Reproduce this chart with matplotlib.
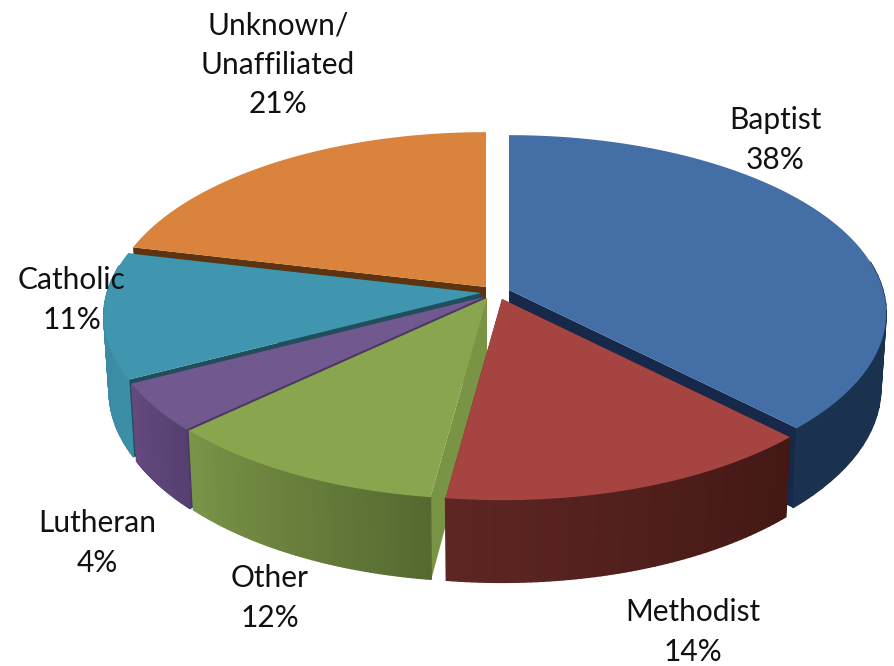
# 3D pie chart, drawn by hand because matplotlib has no 3D pie
import numpy as np
import matplotlib
matplotlib.use('Agg')
import matplotlib.pyplot as plt
from matplotlib.colors import to_rgb

plt.rcParams['font.family'] = ['Lato', 'DejaVu Sans']

# data: printed percentages and the slice sizes as measured on the drawing
names = ['Baptist', 'Methodist', 'Other', 'Lutheran', 'Catholic', 'Unknown/\nUnaffiliated']
values = [38, 14, 12, 4, 11, 21]
shares = [37.7, 14.4, 10.8, 4.4, 11.45, 21.25]

# colours: top, cut wall, outer wall at slice start, outer wall at slice end
tops = ['#446FA6', '#A64442', '#89A54E', '#71588F', '#3F96AE', '#DA833C']
cuts = ['#16294A', '#5A2321', '#7A9446', '#4A3763', '#1F4E5C', '#5E3310']
wall_a = ['#1B3150', '#431815', '#566A30', '#554070', '#3C8EA6', '#5E3310']
wall_b = ['#1B3150', '#5E2623', '#7A9448', '#64497F', '#3A8AA0', '#5E3310']

# where each slice's tip sits in the picture (pixels)
tips = [(509, 290), (502, 299), (487, 298), (484, 297), (481, 293), (486, 287)]
label_xy = [(775, 140), (693, 632), (270, 598), (97, 543), (72, 300), (278, 65)]

# projection settings
R_X, R_Y, K, DEPTH, SHRINK = 374, 175, 0.13, 74, 0.014


def project(tip, theta, r=1.0, low=False):
    x = r * np.sin(theta)
    y = r * np.cos(theta)
    f = 1 / (1 + K * y)
    s = 1 - SHRINK if low else 1
    px = tip[0] + R_X * x * f * s
    py = tip[1] - R_Y * y * f * s
    if low:
        py = py + DEPTH * f
    return px, py


def mix(c1, c2, t):
    a, b = np.array(to_rgb(c1)), np.array(to_rgb(c2))
    return tuple(a + (b - a) * t)


fig = plt.figure(figsize=(8.95, 6.66), dpi=100)
ax = fig.add_axes([0, 0, 1, 1])
ax.set_xlim(0, 895)
ax.set_ylim(666, 0)
ax.axis('off')

edges = np.radians(np.cumsum([0] + shares) * 3.6)

# back slices first, front slices over them
order = [5, 4, 3, 2, 0, 1]
for z, i in enumerate(order):
    tip = tips[i]
    t0, t1 = edges[i], edges[i + 1]
    zo = 2 + z
    # cut faces
    for t in (t0, t1):
        quad = [project(tip, t, 0), project(tip, t), project(tip, t, low=True), project(tip, t, 0, low=True)]
        ax.fill(*zip(*quad), color=cuts[i], lw=0, zorder=zo)
    # outer wall in small strips for the shading, the back half is hidden
    th = np.linspace(t0, t1, 60)
    for j in range(len(th) - 1):
        if np.cos(th[j]) > 0.15 and np.cos(th[j + 1]) > 0.15:
            continue
        quad = [project(tip, th[j]), project(tip, th[j + 1]),
                project(tip, th[j + 1], low=True), project(tip, th[j], low=True)]
        ax.fill(*zip(*quad), color=mix(wall_a[i], wall_b[i], j / 58), lw=1.0, zorder=zo)
    # top
    pts = [project(tip, 0, 0)] + [project(tip, t) for t in th]
    ax.fill(*zip(*pts), color=tops[i], lw=0, zorder=zo)

for name, val, (lx, ly) in zip(names, values, label_xy):
    ax.text(lx, ly, f'{name}\n{val}%', ha='center', va='center', fontsize=21.5,
            color='#111111', linespacing=1.48, zorder=20)

fig.savefig('out.png', dpi=100)
